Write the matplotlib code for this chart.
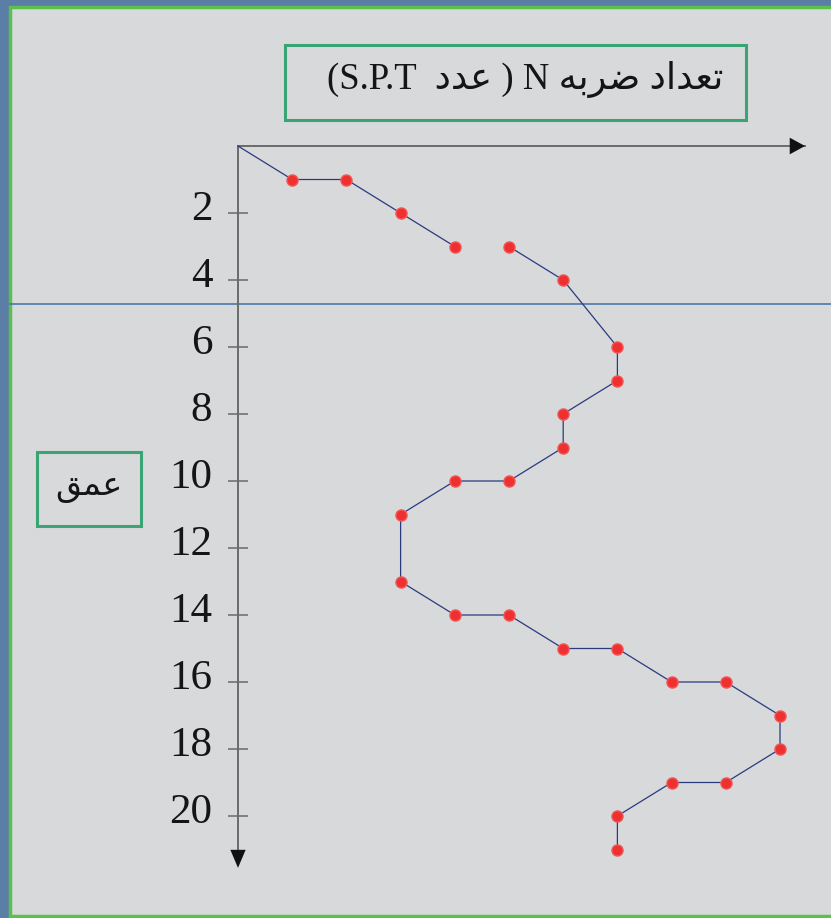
import matplotlib.pyplot as plt
from matplotlib.patches import Rectangle
from matplotlib.lines import Line2D
from matplotlib.transforms import ScaledTranslation

# SPT blow count profile (N index along x, depth along y)
seg1_n = [0, 1, 2, 3, 4]
seg1_depth = [0, 1, 1, 2, 3]
seg2_n = [5, 6, 7, 7, 6, 6, 5, 4, 3, 3, 4, 5, 6, 7, 8, 9, 10, 10, 9, 8, 7, 7]
seg2_depth = [3, 4, 6, 7, 8, 9, 10, 10, 11, 13, 14, 14, 15, 15, 16, 16, 17, 18, 19, 19, 20, 21]
depth_ticks = [2, 4, 6, 8, 10, 12, 14, 16, 18, 20]

# Persian labels written in presentation forms, visual (left-to-right) order
w_tedad = "\uFEA9\uFE8D\uFEAA\uFECC\uFE97"
w_zarbe = "\uFEEA\uFE91\uFEAE\uFEBF"
w_adad = "\uFEA9\uFEAA\uFECB"
w_omgh = "\uFED6\uFEE4\uFECB"
title_txt = "(S.P.T  " + w_adad + " ) N " + w_zarbe + " " + w_tedad

W, H = 831, 918
fig = plt.figure(figsize=(W / 100, H / 100), dpi=100)
fig.patch.set_facecolor("#5a7ea5")

def fx(px):
    return px / W

def fy(py):
    return 1 - py / H

# grey slide panel with green frame
fig.patches.append(Rectangle((fx(10), fy(916)), fx(831) - fx(10) + 0.01, fy(7) - fy(916),
                             transform=fig.transFigure, facecolor="#d8d9db",
                             edgecolor="#5cbf4e", linewidth=2.5, zorder=-2))

# thin guide line across the slide
fig.lines.append(Line2D([fx(10), 1], [fy(304), fy(304)], transform=fig.transFigure,
                        color="#4a78a8", linewidth=1.2, zorder=-1))

# title box and depth box
fig.patches.append(Rectangle((fx(285), fy(120)), fx(746) - fx(285), fy(45) - fy(120),
                             transform=fig.transFigure, facecolor="none",
                             edgecolor="#3aa474", linewidth=2.2, zorder=2))
fig.text(fx(525), fy(80), title_txt, ha="center", va="center", fontsize=26.5,
         family=["Liberation Serif", "DejaVu Sans"], color="#151515")

fig.patches.append(Rectangle((fx(37), fy(526)), fx(141) - fx(37), fy(452) - fy(526),
                             transform=fig.transFigure, facecolor="none",
                             edgecolor="#3aa474", linewidth=2.2, zorder=2))
fig.text(fx(89), fy(487), w_omgh, ha="center", va="center", fontsize=24,
         family=["DejaVu Sans"], color="#151515")

# plot area: origin at the top-left corner
ax = fig.add_axes([fx(238), fy(865), fx(805) - fx(238), fy(146) - fy(865)])
ax.patch.set_visible(False)
ax.set_xlim(0, (805 - 238) / 54.2)
ax.set_ylim((865 - 146) / 33.5, 0)
for s in ax.spines.values():
    s.set_visible(False)

ax.annotate("", xy=(1.0, 1), xytext=(0, 1), xycoords="axes fraction",
            arrowprops=dict(arrowstyle="-|>,head_length=1.1,head_width=0.6",
                            color="#111111", lw=0, shrinkA=0, shrinkB=0))
ax.annotate("", xy=(0, -0.004), xytext=(0, 1), xycoords="axes fraction",
            arrowprops=dict(arrowstyle="-|>,head_length=1.3,head_width=0.55",
                            color="#111111", lw=0, shrinkA=0, shrinkB=0))
ax.plot([0, 1], [1, 1], transform=ax.transAxes, color="#6a6a6a", lw=1.4, clip_on=False)
ax.plot([0, 0], [1, 0.02], transform=ax.transAxes, color="#6a6a6a", lw=1.4, clip_on=False)

ax.set_xticks([])
ax.set_yticks(depth_ticks)
ax.set_yticklabels([str(d) for d in depth_ticks], family="Liberation Serif",
                   fontsize=31, color="#151515", va="center")
ax.tick_params(axis="y", direction="inout", length=15, width=1.1, color="#6a6a6a", pad=11)
# nudge the depth numbers up a little
lift = ScaledTranslation(0, 0.03, fig.dpi_scale_trans)
for lbl in ax.get_yticklabels():
    lbl.set_transform(lbl.get_transform() + lift)

line_kw = dict(color="#2b3a80", lw=0.9, clip_on=False, zorder=3)
mark_kw = dict(linestyle="none", marker="o", markersize=8, color="#ee3030",
               markeredgecolor="#f05858", markeredgewidth=1.0, clip_on=False, zorder=4)
ax.plot(seg1_n, seg1_depth, **line_kw)
ax.plot(seg1_n[1:], seg1_depth[1:], **mark_kw)
ax.plot(seg2_n, seg2_depth, **line_kw)
ax.plot(seg2_n, seg2_depth, **mark_kw)

fig.savefig("out.png", dpi=100, facecolor=fig.get_facecolor())
